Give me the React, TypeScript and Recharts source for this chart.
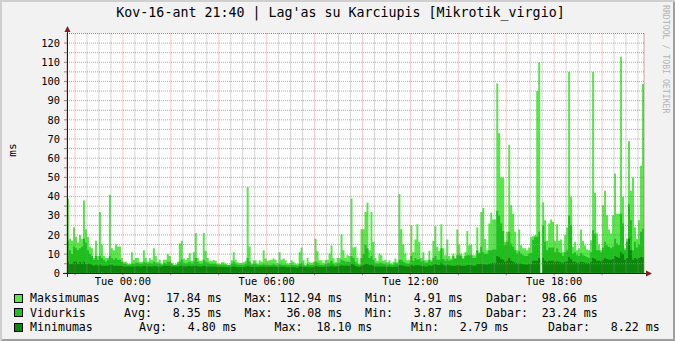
import React from "react";
import { AreaChart, Area, XAxis, YAxis, CartesianGrid } from "recharts";

const TITLE = "Kov-16-ant 21:40 | Lag'as su Karciupis [Mikrotik_virgio]";
const MONO = "'DejaVu Sans Mono', monospace";

// 5 minute samples starting Mon 21:40
const STEP_MIN = 5;
const SPAN_MIN = 1445;

const maxVals: (number | null)[] = [
  39, 18, 17, 24, 19, 16, 20, 18, 38, 23, 19, 14, 13, 8, 17, 9, 32, 15, 9, 8, 8, 41, 13, 12, 15, 14, 14, 8, 6, 6, 5, 5, 11, 7, 8, 8, 6, 6, 12, 8, 6, 8, 7, 13, 9, 6, 7, 5,
  7, 7, 10, 9, 5.5, 4.5, 4.5, 6, 15.5, 17, 7.7, 7, 8, 10.6, 6.5, 11, 21, 8, 6.5, 6.5, 21, 11.7, 8, 6.5, 6.5, 7, 6.5, 5, 4.7, 5.7, 5.7, 5, 4.5, 4.5, 6.8, 11, 7, 5.7, 5.4, 5.4, 5.7, 6.5, 45, 14, 5, 6.8, 6.8, 5,
  6.8, 6, 12, 7.7, 6.5, 6.8, 7, 7.7, 7, 5.4, 11, 7, 7.7, 6.8, 5, 5.4, 6.8, 6, 5, 4.7, 11, 13.4, 6.8, 4.2, 8, 5.7, 5.4, 6, 18, 11.5, 6.8, 6.8, 5.4, 7, 7, 10.3, 14.5, 7.8, 5.7, 8, 8, 20.4, 12, 8, 9.4, 9, 39, 13.4,
  13.8, 8, 4.7, 23, 23, 32, 36.8, 12, 32, 16.4, 8, 6.5, 10.3, 9.4, 6.5, 7, 5.7, 6.8, 5, 6, 7.7, 5.7, 41.3, 23, 15, 10.3, 6.8, 7, 25, 11, 17.6, 25.6, 16.4, 8, 11, 6.8, 6.8, 11.7, 6.8, 17, 24.5, 13.8, 11.7, 25.6, 13, 9.4, 17.6, 9,
  7.7, 10.3, 8, 22.8, 15, 10.3, 8, 11, 22, 14.6, 15, 9.4, 9.4, 23.9, 11, 32, 34, 18, 12, 26, 31.5, 28, 28, 99, 73, 50, 50, 16.4, 21.6, 67, 35.5, 31, 21.6, 12, 22.8, 14.6, 13, 13, 12, 13.4, 19, 19.3, 19.9, 95, 110, null, 37, 27.7,
  17, 26, 28, 26.8, 17, 25.6, 17, 17.6, 11, 19.9, 23.9, 105, 40, 13.8, 16.4, 12, 13, 22.8, 17, 14.6, 12.4, 12, 17.2, 105, 42, 20.7, 15, 12, 35.5, 43, 30.3, 22.8, 20.7, 30.3, 52, 31, 31, 112.94, 39.9, 13, 18, 69, 43, 50, 24, 18, 27.7, 56, 98.66,
];

const avgVals: (number | null)[] = [
  17, 12, 10, 14, 13, 12, 13, 14, 18, 16, 12, 10, 9, 7, 9, 7, 9, 8, 7, 6, 7, 9, 8, 7, 8, 7, 7, 6, 5, 5, 4.5, 4.5, 5, 5, 5.5, 5.5, 5, 5, 6, 5.5, 5, 5.5, 5, 6, 5.5, 5, 5, 4.5,
  5.5, 5, 6, 6, 5, 4.5, 4.5, 5, 6, 7, 5.5, 5, 5.5, 6, 5, 6, 8, 6, 5, 5, 7, 6, 5.5, 5, 5, 5, 5, 4.5, 4.5, 4.5, 4.5, 4.5, 4.2, 4.2, 5, 6, 5, 4.5, 4.5, 4.5, 4.5, 5, 8, 6, 4.5, 5, 5, 4.5,
  4.5, 4.5, 5, 4.5, 4.5, 4.5, 4.5, 5, 4.5, 4.2, 5, 4.5, 4.5, 4.5, 4.2, 4.2, 4.5, 4.2, 4.2, 4, 5, 5.5, 4.5, 4, 4.8, 4.3, 4.3, 4.5, 6, 5.5, 4.5, 4.5, 4.3, 4.8, 5, 5.5, 6.5, 5, 4.5, 5.5, 5.5, 7, 6.5, 6, 6, 6, 9, 8,
  6, 5, 4.5, 8, 10, 15, 13, 8, 9, 7, 5.5, 5, 5.5, 5.5, 5, 5, 4.5, 5, 4.5, 4.5, 5.5, 5, 7, 7, 6, 5.5, 5, 5, 9, 6.5, 8, 7, 7.5, 6, 6.5, 5.5, 5.5, 7, 6, 8, 9, 7, 7, 13, 7.5, 6.5, 7.5, 6.5,
  7, 9, 7.5, 9.4, 9.4, 9, 7.5, 9, 9.4, 9.4, 9.4, 8, 8, 12, 10.5, 13.8, 11, 10, 10, 12, 12, 12.4, 12.4, 32.6, 30, 26, 22, 14.6, 16.4, 21.6, 15.5, 13.8, 12, 10.3, 11.5, 10.3, 9.4, 9, 9, 10.3, 10.6, 17.5, 19, 19, 21.6, null, 25, 16.4,
  12, 13.4, 13.4, 13.4, 11, 13, 11, 10.6, 9, 11, 12, 30, 25, 10.3, 11, 9.4, 9, 10.6, 9.4, 9, 8.5, 8, 11, 22.5, 20.7, 12, 12, 11, 13.4, 16.4, 14.6, 13.8, 13, 13.8, 18, 15.5, 14.6, 31, 26, 12, 16.4, 36, 27.7, 12, 16.4, 13.4, 15, 21.6, 23.24,
];

const minVals: (number | null)[] = [
  6, 5, 5, 6, 6, 5, 6, 5, 6, 5, 5, 5, 4.5, 4, 4.5, 4, 4.5, 4, 4, 4, 4, 4.5, 4.5, 4, 4, 4, 4, 3.8, 3.6, 3.6, 3.5, 3.5, 3.6, 3.6, 3.7, 3.7, 3.6, 3.6, 3.8, 3.7, 3.6, 3.7, 3.6, 3.8, 3.7, 3.6, 3.6, 3.5,
  4, 3.8, 4, 4, 3.6, 3.5, 3.5, 3.6, 3.8, 4, 3.7, 3.6, 3.7, 3.8, 3.6, 3.8, 4, 3.7, 3.6, 3.6, 3.9, 3.7, 3.6, 3.5, 3.5, 3.5, 3.5, 3.3, 3.3, 3.3, 3.3, 3.3, 3.2, 3.2, 3.4, 3.6, 3.4, 3.3, 3.3, 3.3, 3.3, 3.4, 3.8, 3.6, 3.3, 3.4, 3.4, 3.3,
  3.4, 3.4, 3.6, 3.4, 3.4, 3.4, 3.4, 3.5, 3.4, 3.2, 3.5, 3.4, 3.4, 3.3, 3.2, 3.2, 3.3, 3.2, 3.2, 2.8, 3.5, 3.6, 3.3, 3.1, 3.4, 3.2, 3.2, 3.3, 3.8, 3.6, 3.4, 3.4, 3.3, 3.5, 3.5, 3.6, 4, 3.6, 3.4, 3.7, 3.8, 4.2, 4, 3.9, 4, 4, 5, 4.6,
  3.8, 3.6, 3.3, 4, 4.3, 5, 5, 4.2, 4.5, 4, 3.6, 3.5, 3.6, 3.6, 3.5, 3.5, 3.3, 3.5, 3.3, 3.3, 3.6, 3.4, 4.2, 4.2, 3.9, 3.7, 3.5, 3.5, 4.4, 3.8, 4.2, 4.2, 4.2, 3.8, 4, 3.6, 3.6, 4.2, 3.8, 4.5, 5, 4.3, 4.3, 5.5, 4.5, 4, 4.5, 4.2,
  4, 4, 4, 4.2, 4.2, 4, 4, 4, 4.3, 4.3, 4.3, 4, 4, 4.8, 4.8, 5, 4.8, 4.6, 4.6, 5, 5.2, 5.5, 5.5, 9, 8.5, 7.5, 7, 6, 6.5, 8, 6.5, 6, 5.5, 5, 5.2, 5, 4.8, 4.6, 4.6, 5, 5, 6.5, 6.5, 6.5, 8, null, 8, 6.5,
  6, 6.5, 6.5, 6.5, 6, 6.3, 6, 5.8, 5.5, 6, 6.3, 8.5, 7.5, 6, 6, 5.5, 5.5, 6, 5.8, 5.5, 5.3, 5.2, 6, 8, 7.5, 6.5, 6.5, 6.2, 7, 8, 7.5, 7, 7, 7.5, 9, 8.5, 8, 11, 10, 7, 8, 18.1, 12, 7, 8, 7.5, 8, 8.5, 8.22,
];

const yLabelTicks = [0, 10, 20, 30, 40, 50, 60, 70, 80, 90, 100, 110, 120];
const yMinorTicks = [5, 15, 25, 35, 45, 55, 65, 75, 85, 95, 105, 115];
const yAllTicks = [...yLabelTicks, ...yMinorTicks].sort((a, b) => a - b);

// minutes from start: 22:00 is at 20
const xMajorTicks = Array.from({ length: 12 }, (_, k) => 20 + 120 * k);
const xMinorTicks = Array.from({ length: 48 }, (_, k) => 20 + 30 * k).filter((t) => (t - 20) % 120 !== 0);
const xLabelTicks = [140, 500, 860, 1220];
const xLabels = ["Tue 00:00", "Tue 06:00", "Tue 12:00", "Tue 18:00"];

const seriesNames = ["Maksimumas", "Vidurkis", "Minimumas"];
const COLORS = ["#5AE64E", "#1EC01E", "#0C870C"];
const statAvg = ["17.84", "8.35", "4.80"];
const statMax = ["112.94", "36.08", "18.10"];
const statMin = ["4.91", "3.87", "2.79"];
const statLast = ["98.66", "23.24", "8.22"];

const rows = maxVals.map((v, i) => ({
  t: i * STEP_MIN,
  max: v ?? 0,
  avg: avgVals[i] ?? 0,
  min: minVals[i] ?? 0,
}));
rows.push({ ...rows[rows.length - 1], t: rows.length * STEP_MIN });

const PLOT = { top: 33.5, right: 31, left: 67, bottom: 67.7 };
const GRID_MINOR = "rgba(143,143,143,0.75)";
const GRID_MAJOR = "rgba(222,79,79,0.6)";
const ARROW = "#7F1F1F";
const AXIS = "#1F1F1F";

// legend column x positions per row
const legendCols = [
  [124, 244.5, 365, 486],
  [124, 244.5, 365, 486],
  [139, 274.6, 411, 548],
];
const legendY = [298, 312.5, 327];

const txt: React.CSSProperties = {
  position: "absolute",
  fontFamily: MONO,
  whiteSpace: "pre",
  color: "#000",
};

const App = () => {
  const tickStyle = { fontFamily: MONO, fontSize: 10.4, fill: "#000" };
  return (
    <div
      style={{
        position: "absolute",
        left: 0,
        top: 0,
        width: 675,
        height: 341,
        background: "#F2F2F2",
        boxShadow: "inset 2px 2px 0 #CFCFCF, inset -2px -2px 0 #9E9E9E",
        overflow: "hidden",
      }}
    >
      <div style={{ ...txt, left: 0, width: 681, top: 4, textAlign: "center", fontSize: 13.3, lineHeight: "18px" }}>{TITLE}</div>
      <div
        style={{
          ...txt,
          left: 662,
          top: 5,
          fontSize: 8.2,
          color: "#B4B4B4",
          transformOrigin: "0 0",
          transform: "rotate(90deg) translate(0, -9px)",
        }}
      >
        RRDTOOL / TOBI OETIKER
      </div>
      <div
        style={{
          ...txt,
          left: 12,
          top: 150,
          fontSize: 11,
          transform: "translate(-50%, -50%) rotate(-90deg)",
        }}
      >
        ms
      </div>

      {/* data layer */}
      <div style={{ position: "absolute", left: 0, top: 0 }}>
        <AreaChart width={675} height={341} data={rows} margin={PLOT}>
          <CartesianGrid fill="#FFFFFF" horizontal={false} vertical={false} />
          <XAxis dataKey="t" type="number" domain={[0, SPAN_MIN]} hide allowDataOverflow />
          <YAxis type="number" domain={[0, 125]} hide allowDataOverflow />
          <Area type="stepAfter" dataKey="max" fill={COLORS[0]} fillOpacity={1} stroke="none" dot={false} activeDot={false} isAnimationActive={false} />
          <Area type="stepAfter" dataKey="avg" fill={COLORS[1]} fillOpacity={1} stroke="none" dot={false} activeDot={false} isAnimationActive={false} />
          <Area type="stepAfter" dataKey="min" fill={COLORS[2]} fillOpacity={1} stroke="none" dot={false} activeDot={false} isAnimationActive={false} />
        </AreaChart>
      </div>

      {/* grid + axes layer */}
      <div style={{ position: "absolute", left: 0, top: 0 }}>
        <AreaChart width={675} height={341} data={rows} margin={{ top: PLOT.top, right: PLOT.right, left: 0, bottom: 0 }}>
          <XAxis xAxisId="minor" dataKey="t" type="number" domain={[0, SPAN_MIN]} ticks={xMinorTicks} interval={0} hide allowDataOverflow />
          <XAxis xAxisId="major" dataKey="t" type="number" domain={[0, SPAN_MIN]} ticks={xMajorTicks} interval={0} hide allowDataOverflow />
          <YAxis yAxisId="minor" type="number" domain={[0, 125]} ticks={yMinorTicks} interval={0} hide allowDataOverflow />
          <YAxis yAxisId="major" type="number" domain={[0, 125]} ticks={yLabelTicks} interval={0} hide allowDataOverflow />
          <CartesianGrid xAxisId="minor" yAxisId="minor" stroke={GRID_MINOR} strokeDasharray="1 1" />
          <CartesianGrid xAxisId="major" yAxisId="major" stroke={GRID_MAJOR} strokeDasharray="1 1" />
          <XAxis
            xAxisId="main"
            dataKey="t"
            type="number"
            domain={[0, SPAN_MIN]}
            ticks={xMajorTicks}
            interval={0}
            height={PLOT.bottom}
            allowDataOverflow
            axisLine={false}
            tickSize={2}
            tickMargin={2}
            tickLine={{ stroke: "#888" }}
            tick={tickStyle}
            tickFormatter={(t: number) => {
              const k = xLabelTicks.indexOf(t);
              return k >= 0 ? xLabels[k] : "";
            }}
          />
          <YAxis
            yAxisId="main"
            type="number"
            domain={[0, 125]}
            ticks={yAllTicks}
            interval={0}
            width={PLOT.left}
            allowDataOverflow
            axisLine={false}
            tickSize={3}
            tickMargin={4}
            tickLine={{ stroke: "#888" }}
            tick={tickStyle}
            tickFormatter={(v: number) => (v % 10 === 0 ? String(v) : "")}
          />
        </AreaChart>
      </div>

      <svg width={675} height={341} style={{ position: "absolute", left: 0, top: 0, pointerEvents: "none" }}>
        <line x1={67.5} y1={277} x2={67.5} y2={30} stroke={AXIS} strokeWidth={1} />
        <line x1={63} y1={273.5} x2={647} y2={273.5} stroke={AXIS} strokeWidth={1} />
        <polygon points="67.5,26 64.5,32 70.5,32" fill={ARROW} />
        <polygon points="652,273.5 646,270.5 646,276.5" fill={ARROW} />
      </svg>

      {seriesNames.map((name, r) => {
        const cy = legendY[r];
        const cols = legendCols[r];
        const parts = [
          `Avg: ${statAvg[r].padStart(6)} ms`,
          `Max: ${statMax[r].padStart(6)} ms`,
          `Min: ${statMin[r].padStart(6)} ms`,
          `Dabar: ${statLast[r].padStart(6)} ms`,
        ];
        return (
          <React.Fragment key={name}>
            <div
              style={{
                position: "absolute",
                left: 14,
                top: cy - 4.5,
                width: 7,
                height: 7,
                border: "1px solid #000",
                background: COLORS[r],
              }}
            />
            <div style={{ ...txt, left: 30, top: cy - 7, fontSize: 11.6, lineHeight: "14px" }}>{name}</div>
            {parts.map((p, k) => (
              <div key={k} style={{ ...txt, left: cols[k], top: cy - 7, fontSize: 11.6, lineHeight: "14px" }}>
                {p}
              </div>
            ))}
          </React.Fragment>
        );
      })}
    </div>
  );
};

export default App;
